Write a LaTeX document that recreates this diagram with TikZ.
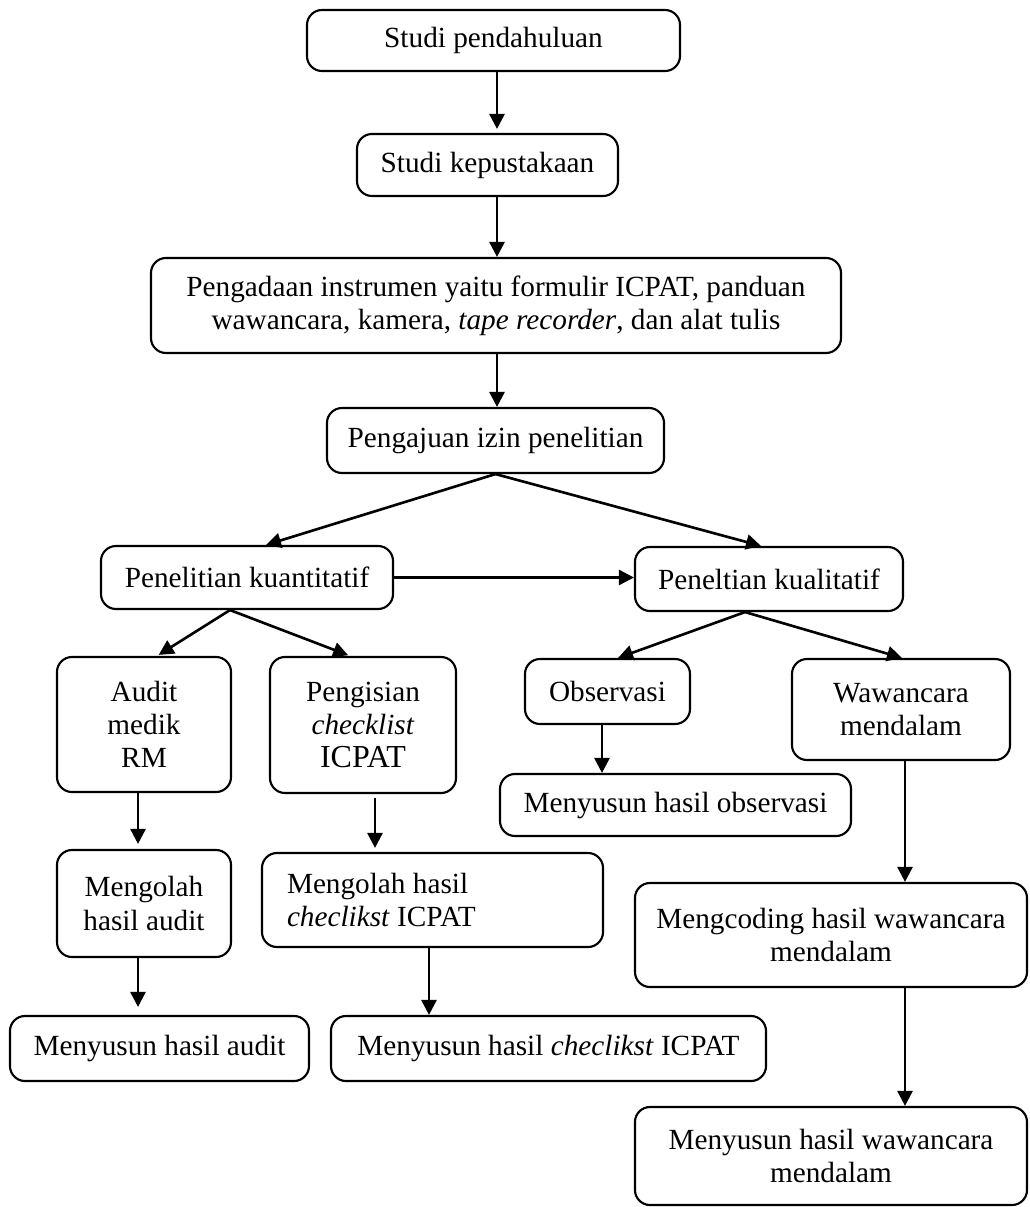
\documentclass[tikz,border=0pt]{standalone}
\usepackage{fontspec}
\setmainfont{Liberation Serif}
\usetikzlibrary{arrows.meta}

\begin{document}
\begin{tikzpicture}[x=0.4pt, y=-0.4pt,
    font=\fontsize{11.7pt}{13.3pt}\selectfont,
    box/.style={draw, line width=0.85pt, rounded corners=6pt, align=center, inner sep=0pt},
    arr/.style={line width=1.05pt, -{Triangle[length=6pt, width=6pt]}}]
  \useasboundingbox (0,0) rectangle (1029,1207);

  % preparation
  \node[box, minimum width=149.2pt, minimum height=24.4pt] (pendahuluan) at (493.5,  40.5) {Studi pendahuluan};
  \node[box, minimum width=104.4pt, minimum height=24.8pt] (kepustakaan) at (487.5, 165)   {Studi kepustakaan};
  \node[box, minimum width=276pt,   minimum height=38pt]   (pengadaan)   at (496,   305.5)
    {Pengadaan instrumen yaitu formulir ICPAT, panduan\\wawancara, kamera, \textit{tape recorder}, dan alat tulis};
  \node[box, minimum width=134.8pt, minimum height=26pt]   (pengajuan)   at (495.5, 440.5) {Pengajuan izin penelitian};

  % two branches
  \node[box, minimum width=116.8pt, minimum height=25.2pt] (kuantitatif) at (247, 577.5) {Penelitian kuantitatif};
  \node[box, minimum width=107.2pt, minimum height=25.6pt] (kualitatif)  at (769, 579)   {Peneltian kualitatif};

  % quantitative side
  \node[box, minimum width=69.6pt, minimum height=54pt]   (audit)      at (144, 724.5) {Audit\\medik\\RM};
  \node[box, minimum width=74.4pt, minimum height=54.4pt] (pengisian)  at (363, 725)
    {Pengisian\\\textit{checklist}\\{\fontsize{12.8pt}{13.3pt}\selectfont ICPAT}};
  \node[box, minimum width=69.6pt, minimum height=42.8pt] (olahaudit)  at (144, 903.5) {Mengolah\\hasil audit};
  \node[box, align=flush left, text width=116.4pt, inner xsep=10pt, minimum height=37.6pt] (olahcek) at (432.5, 900)
    {Mengolah hasil\\\textit{checlikst} ICPAT};
  \node[box, minimum width=119.6pt, minimum height=26pt]  (susunaudit) at (159.5, 1048.5) {Menyusun hasil audit};
  \node[box, minimum width=174pt,   minimum height=26pt]  (susuncek)   at (548.5, 1048.5) {Menyusun hasil \textit{checlikst} ICPAT};

  % qualitative side
  \node[box, minimum width=66pt,    minimum height=26pt]   (observasi) at (607.5, 691.5) {Observasi};
  \node[box, minimum width=87.2pt,  minimum height=40.4pt] (wawancara) at (901,   709.5) {Wawancara\\mendalam};
  \node[box, minimum width=140.4pt, minimum height=24.8pt] (susunobs)  at (675.5, 805)   {Menyusun hasil observasi};
  \node[box, minimum width=156.8pt, minimum height=41.6pt] (coding)    at (831,   935)   {Mengcoding hasil wawancara\\mendalam};
  \node[box, minimum width=156.8pt, minimum height=39.2pt] (susunwaw)  at (831,  1156)   {Menyusun hasil wawancara\\mendalam};

  % arrows down the middle
  \coordinate (spine) at (497,0);
  \draw[arr, shorten >=1.6pt] (pendahuluan.south -| spine) -- (kepustakaan.north -| spine);
  \draw[arr] (kepustakaan.south -| spine) -- (pengadaan.north -| spine);
  \draw[arr] (pengadaan.south -| spine) -- (pengajuan.north -| spine);

  % split
  \draw[arr] (pengajuan.south) -- ([xshift=7.6pt]kuantitatif.north);
  \draw[arr] (pengajuan.south) -- ([xshift=-3.2pt]kualitatif.north);
  \draw[arr] (kuantitatif.east) -- (kuantitatif.east -| kualitatif.west);

  \draw[arr, shorten >=0.8pt] ([xshift=-6.8pt]kuantitatif.south) -- ([xshift=5.2pt]audit.north);
  \draw[arr, shorten >=0.8pt] ([xshift=-6.8pt]kuantitatif.south) -- ([xshift=-5.2pt]pengisian.north);
  \draw[arr] ([xshift=-9.6pt]kualitatif.south) -- ([xshift=4.2pt]observasi.north);
  \draw[arr] ([xshift=-9.6pt]kualitatif.south) -- ([xshift=0.4pt]wawancara.north);

  % columns
  \coordinate (acol) at ([xshift=-2.4pt]audit.south);
  \draw[arr, shorten >=2pt] (acol) -- (acol |- olahaudit.north);
  \draw[arr, shorten >=3.2pt] (acol |- olahaudit.south) -- (acol |- susunaudit.north);

  \coordinate (pcol) at ([xshift=4.8pt]pengisian.south);
  \draw[arr, shorten <=1.6pt, shorten >=1.6pt] (pcol) -- (pcol |- olahcek.north);
  \coordinate (ccol) at ([xshift=-1.4pt]olahcek.south);
  \draw[arr] (ccol) -- (ccol |- susuncek.north);

  \coordinate (ocol) at ([xshift=-2.2pt]observasi.south);
  \draw[arr] (ocol) -- (ocol |- susunobs.north);

  \coordinate (wcol) at ([xshift=1.6pt]wawancara.south);
  \draw[arr] (wcol) -- (wcol |- coding.north);
  \draw[arr] (wcol |- coding.south) -- (wcol |- susunwaw.north);
\end{tikzpicture}
\end{document}
